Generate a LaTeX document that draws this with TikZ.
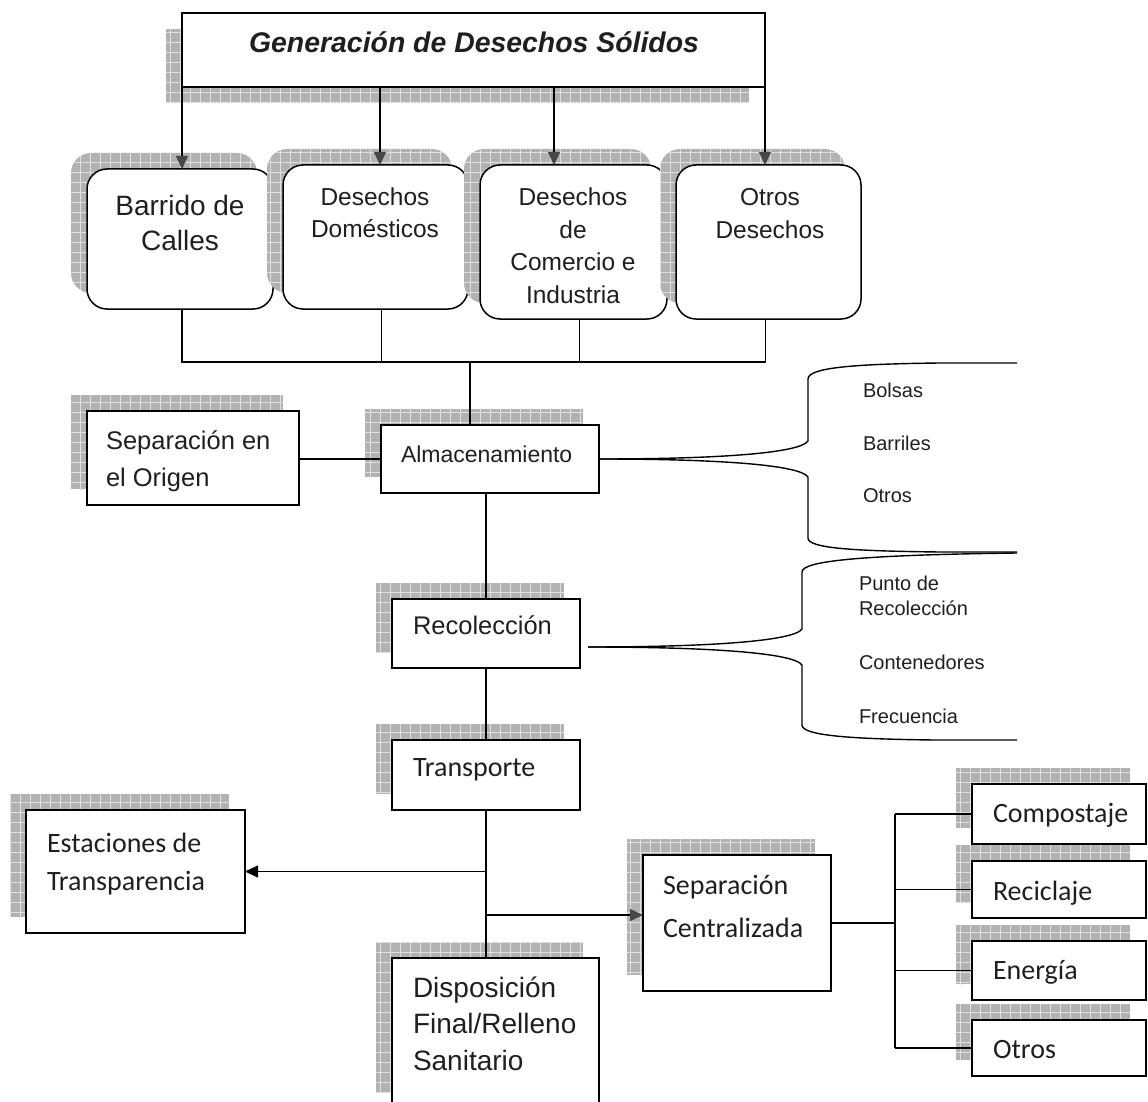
\documentclass[tikz,border=0pt]{standalone}
\usepackage{fontspec}
\setmainfont{Liberation Sans}
\newfontfamily\arialf{Liberation Sans}
\newfontfamily\calif{Carlito}
\usetikzlibrary{arrows.meta,shadows,patterns.meta,calc}
\begin{document}
\begin{tikzpicture}[x=1pt,y=-1pt,
  every node/.style={outer sep=0pt, inner sep=0pt, text=black!88},
  shd/.style 2 args={general shadow={fill=black!30, shadow xshift=#1, shadow yshift=#2},
      general shadow={pattern={Hatch[distance=10pt,line width=0.8pt]}, pattern color=black!12, shadow xshift=#1, shadow yshift=#2}},
  plainbox/.style={draw=black, line width=1.5pt, fill=white},
  box/.style={plainbox, shd={-16pt}{16pt}},
  topbox/.style={plainbox, shd={-16pt}{-16pt}},
  rbox/.style={box, rounded corners=20pt},
  ln/.style={line width=1.4pt, draw=black},
  arrg/.style={ln, -{Triangle[length=13pt,width=12pt,color=black!72]}},
  arrb/.style={ln, -{Triangle[length=13pt,width=12pt]}},
  tTitle/.style={font=\arialf\bfseries\itshape\fontsize{28.4}{34}\selectfont},
  tBig/.style={font=\arialf\fontsize{28}{35}\selectfont, align=center},
  tMid/.style={font=\arialf\fontsize{24.5}{32.5}\selectfont, align=center},
  tSep/.style={font=\arialf\fontsize{25.5}{37}\selectfont, align=left, anchor=west},
  tAlm/.style={font=\arialf\fontsize{23}{28}\selectfont, anchor=west},
  tRec/.style={font=\arialf\fontsize{25.5}{30}\selectfont, anchor=west},
  tDisp/.style={font=\arialf\fontsize{28}{36.5}\selectfont, align=left, anchor=west},
  tCal/.style={font=\calif\fontsize{28}{38}\selectfont, align=left, anchor=west},
  tCalB/.style={font=\calif\fontsize{28}{43}\selectfont, align=left, anchor=west},
  tSmall/.style={font=\arialf\fontsize{20}{25}\selectfont, align=left, anchor=west}
]
\useasboundingbox (0,0) rectangle (1148,1102);

% ---------- boxes ----------
\node[topbox, minimum width=583pt, minimum height=74pt] (top) at (473.5,50) {};
\node[rbox, minimum width=186pt, minimum height=140pt] (barr) at (180,239) {};
\node[rbox, minimum width=185pt, minimum height=144pt] (dom) at (375.5,237) {};
\node[rbox, minimum width=187pt, minimum height=154pt] (com) at (573.5,242) {};
\node[rbox, minimum width=185pt, minimum height=154pt] (otr) at (768.5,242) {};
\node[box, minimum width=212pt, minimum height=94pt] (sepo) at (193,458) {};
\node[box, minimum width=218pt, minimum height=68pt] (alm) at (490,459) {};
\node[box, minimum width=188pt, minimum height=69pt] (rec) at (486,633.5) {};
\node[box, minimum width=188pt, minimum height=70pt] (tra) at (486,775) {};
\node[box, minimum width=219pt, minimum height=123pt] (est) at (135.5,871.5) {};
\node[box, minimum width=207pt, minimum height=150pt] (disp) at (495.5,1033) {};
\node[box, minimum width=188pt, minimum height=136pt] (sepc) at (737,923) {};
\node[box, minimum width=174pt, minimum height=60pt] (comp) at (1059,814) {};
\node[box, minimum width=174pt, minimum height=57pt] (reci) at (1059,889.5) {};
\node[box, minimum width=174pt, minimum height=59pt] (ener) at (1059,970.5) {};
\node[box, minimum width=174pt, minimum height=56pt] (otr2) at (1059,1048) {};

% ---------- texts ----------
\node[tTitle] (toptxt) at (474,42) {Generación de Desechos Sólidos};
\node[tBig] (barrtxt) at (180,222.5) {Barrido de\\Calles};
\node[tMid] (domtxt) at (375,212.5) {Desechos\\Domésticos};
\node[tMid] (comtxt) at (573,245.5) {Desechos\\de\\Comercio e\\Industria};
\node[tMid] (otrtxt) at (770,213.5) {Otros\\Desechos};
\node[tSep] (sepotxt) at (106,461) {Separación en\\el Origen};
\node[tAlm] (almtxt) at (401,454) {Almacenamiento};
\node[tRec] (rectxt) at (413,625) {Recolección};
\node[tCal] (tratxt) at (413,770) {Transporte};
\node[tDisp] (disptxt) at (413,1023.5) {Disposición\\Final/Relleno\\Sanitario};
\node[tCal] (esttxt) at (47,864) {Estaciones de\\Transparencia};
\node[tCalB] (sepctxt) at (663,906.5) {Separación\\Centralizada};
\node[tCal] (comptxt) at (993,815) {Compostaje};
\node[tCal] (recitxt) at (993,893) {Reciclaje};
\node[tCal] (enertxt) at (993,972) {Energía};
\node[tCal] (otr2txt) at (993,1050) {Otros};
\node[tSmall] (bolsas) at (863,390) {Bolsas};
\node[tSmall] (barriles) at (863,443) {Barriles};
\node[tSmall] (otros3) at (863,496) {Otros};
\node[tSmall] (punto) at (859,595.5) {Punto de\\Recolección};
\node[tSmall] (cont) at (859,662) {Contenedores};
\node[tSmall] (frec) at (859,716) {Frecuencia};

% ---------- connectors ----------
\draw[arrg] (top.south west) -- (top.south west |- barr.north);
\coordinate (t2) at ($(top.south west)+(198,0)$);
\draw[arrg] (t2) -- (t2 |- dom.north);
\coordinate (t3) at ($(top.south west)+(372,0)$);
\draw[arrg] (t3) -- (t3 |- com.north);
\draw[arrg] (top.south east) -- (top.south east |- otr.north);

\coordinate (bus) at (470,362);
\coordinate (s1) at ($(barr.south)+(2,0)$);
\coordinate (s2) at ($(dom.south)+(6,0)$);
\coordinate (s3) at ($(com.south)+(6,0)$);
\coordinate (s4) at ($(otr.south)+(-3,0)$);
\draw[ln] (s1) -- (s1 |- bus) -- (s4 |- bus) -- (s4);
\draw[ln] (s2) -- (s2 |- bus);
\draw[ln] (s3) -- (s3 |- bus);
\draw[ln] (bus) -- (bus |- alm.north);

\draw[ln] (sepo.east |- alm.west) -- (alm.west);
\draw[ln] (rec.north |- alm.south) -- (rec.north);
\draw[ln] (rec.south) -- (tra.north);
\draw[ln] (tra.south) -- (tra.south |- disp.north);
\draw[arrb] (tra.south |- est.east) -- (est.east);
\coordinate (sca) at ([yshift=8pt]sepc.west);
\draw[arrg] (tra.south |- sca) -- (sca);

\coordinate (tr) at ($(sepc.east)+(64,0)$);
\draw[ln] (sepc.east) -- (tr);
\draw[ln] (tr |- comp.west) -- (tr |- otr2.west);
\foreach \n in {comp,reci,ener,otr2} \draw[ln] (tr |- \n.west) -- (\n.west);

% ---------- braces ----------
\coordinate (b1u) at (1017,363);
\coordinate (b1l) at (1017,552);
\draw[ln] (alm.east) .. controls (720,459) and (800,453) .. (808,441) -- (808,379)
   .. controls (808,368) and (850,364) .. (940,363) -- (b1u);
\draw[ln] (alm.east) .. controls (720,459) and (800,465) .. (808,477) -- (808,538)
   .. controls (808,548) and (850,551) .. (940,552) -- (b1l);

\coordinate (b2t) at ($(rec.east)+(8,13.5)$);
\coordinate (b2u) at (1017,553);
\coordinate (b2l) at (1017,740);
\draw[ln] (b2t) .. controls (710,647) and (794,641) .. (802,629) -- (802,572)
   .. controls (802,561) and (860,555) .. (b2u);
\draw[ln] (b2t) .. controls (710,647) and (794,653) .. (802,665) -- (802,725)
   .. controls (802,735) and (845,739) .. (935,740) -- (b2l);
\end{tikzpicture}
\end{document}
